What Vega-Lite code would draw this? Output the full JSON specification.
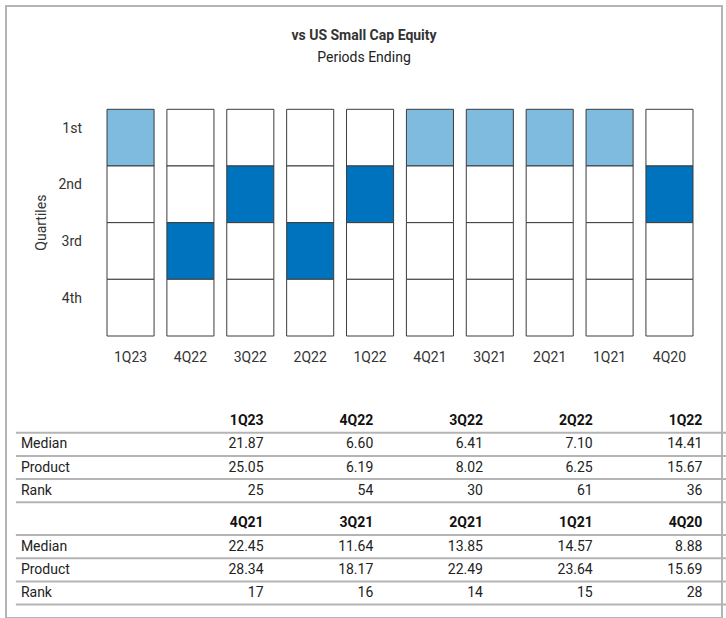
{
  "$schema": "https://vega.github.io/schema/vega-lite/v6.json",
  "width": 716,
  "height": 612,
  "autosize": {"type": "none"},
  "padding": {"left": 6, "top": 6, "right": 4, "bottom": 0},
  "background": "white",
  "config": {
    "view": {"stroke": "#b4b4b4", "strokeWidth": 2},
    "font": "Roboto",
    "text": {"font": "Roboto", "fontSize": 14, "color": "#222"}
  },
  "title": {
    "text": "vs US Small Cap Equity",
    "subtitle": "Periods Ending",
    "offset": -59,
    "frame": "group",
    "anchor": "middle",
    "font": "Roboto",
    "fontSize": 14,
    "fontWeight": "bold",
    "color": "#333",
    "subtitleFont": "Roboto",
    "subtitleFontSize": 14,
    "subtitleColor": "#222",
    "subtitlePadding": 8
  },
  "datasets": {
    "cells": [
      {"period": "1Q23", "quartile": "1st", "status": "Product - 1st quartile"},
      {"period": "1Q23", "quartile": "2nd", "status": "Peer"},
      {"period": "1Q23", "quartile": "3rd", "status": "Peer"},
      {"period": "1Q23", "quartile": "4th", "status": "Peer"},
      {"period": "4Q22", "quartile": "1st", "status": "Peer"},
      {"period": "4Q22", "quartile": "2nd", "status": "Peer"},
      {"period": "4Q22", "quartile": "3rd", "status": "Product - other quartile"},
      {"period": "4Q22", "quartile": "4th", "status": "Peer"},
      {"period": "3Q22", "quartile": "1st", "status": "Peer"},
      {"period": "3Q22", "quartile": "2nd", "status": "Product - other quartile"},
      {"period": "3Q22", "quartile": "3rd", "status": "Peer"},
      {"period": "3Q22", "quartile": "4th", "status": "Peer"},
      {"period": "2Q22", "quartile": "1st", "status": "Peer"},
      {"period": "2Q22", "quartile": "2nd", "status": "Peer"},
      {"period": "2Q22", "quartile": "3rd", "status": "Product - other quartile"},
      {"period": "2Q22", "quartile": "4th", "status": "Peer"},
      {"period": "1Q22", "quartile": "1st", "status": "Peer"},
      {"period": "1Q22", "quartile": "2nd", "status": "Product - other quartile"},
      {"period": "1Q22", "quartile": "3rd", "status": "Peer"},
      {"period": "1Q22", "quartile": "4th", "status": "Peer"},
      {"period": "4Q21", "quartile": "1st", "status": "Product - 1st quartile"},
      {"period": "4Q21", "quartile": "2nd", "status": "Peer"},
      {"period": "4Q21", "quartile": "3rd", "status": "Peer"},
      {"period": "4Q21", "quartile": "4th", "status": "Peer"},
      {"period": "3Q21", "quartile": "1st", "status": "Product - 1st quartile"},
      {"period": "3Q21", "quartile": "2nd", "status": "Peer"},
      {"period": "3Q21", "quartile": "3rd", "status": "Peer"},
      {"period": "3Q21", "quartile": "4th", "status": "Peer"},
      {"period": "2Q21", "quartile": "1st", "status": "Product - 1st quartile"},
      {"period": "2Q21", "quartile": "2nd", "status": "Peer"},
      {"period": "2Q21", "quartile": "3rd", "status": "Peer"},
      {"period": "2Q21", "quartile": "4th", "status": "Peer"},
      {"period": "1Q21", "quartile": "1st", "status": "Product - 1st quartile"},
      {"period": "1Q21", "quartile": "2nd", "status": "Peer"},
      {"period": "1Q21", "quartile": "3rd", "status": "Peer"},
      {"period": "1Q21", "quartile": "4th", "status": "Peer"},
      {"period": "4Q20", "quartile": "1st", "status": "Peer"},
      {"period": "4Q20", "quartile": "2nd", "status": "Product - other quartile"},
      {"period": "4Q20", "quartile": "3rd", "status": "Peer"},
      {"period": "4Q20", "quartile": "4th", "status": "Peer"}
    ],
    "table": [
      {"block": 1, "period": "1Q23", "metric": "Median", "value": 21.87},
      {"block": 1, "period": "1Q23", "metric": "Product", "value": 25.05},
      {"block": 1, "period": "1Q23", "metric": "Rank", "value": 25},
      {"block": 1, "period": "4Q22", "metric": "Median", "value": 6.60},
      {"block": 1, "period": "4Q22", "metric": "Product", "value": 6.19},
      {"block": 1, "period": "4Q22", "metric": "Rank", "value": 54},
      {"block": 1, "period": "3Q22", "metric": "Median", "value": 6.41},
      {"block": 1, "period": "3Q22", "metric": "Product", "value": 8.02},
      {"block": 1, "period": "3Q22", "metric": "Rank", "value": 30},
      {"block": 1, "period": "2Q22", "metric": "Median", "value": 7.10},
      {"block": 1, "period": "2Q22", "metric": "Product", "value": 6.25},
      {"block": 1, "period": "2Q22", "metric": "Rank", "value": 61},
      {"block": 1, "period": "1Q22", "metric": "Median", "value": 14.41},
      {"block": 1, "period": "1Q22", "metric": "Product", "value": 15.67},
      {"block": 1, "period": "1Q22", "metric": "Rank", "value": 36},
      {"block": 2, "period": "4Q21", "metric": "Median", "value": 22.45},
      {"block": 2, "period": "4Q21", "metric": "Product", "value": 28.34},
      {"block": 2, "period": "4Q21", "metric": "Rank", "value": 17},
      {"block": 2, "period": "3Q21", "metric": "Median", "value": 11.64},
      {"block": 2, "period": "3Q21", "metric": "Product", "value": 18.17},
      {"block": 2, "period": "3Q21", "metric": "Rank", "value": 16},
      {"block": 2, "period": "2Q21", "metric": "Median", "value": 13.85},
      {"block": 2, "period": "2Q21", "metric": "Product", "value": 22.49},
      {"block": 2, "period": "2Q21", "metric": "Rank", "value": 14},
      {"block": 2, "period": "1Q21", "metric": "Median", "value": 14.57},
      {"block": 2, "period": "1Q21", "metric": "Product", "value": 23.64},
      {"block": 2, "period": "1Q21", "metric": "Rank", "value": 15},
      {"block": 2, "period": "4Q20", "metric": "Median", "value": 8.88},
      {"block": 2, "period": "4Q20", "metric": "Product", "value": 15.69},
      {"block": 2, "period": "4Q20", "metric": "Rank", "value": 28}
    ]
  },
  "resolve": {"scale": {"x": "independent", "y": "independent"}},
  "layer": [
    {
      "data": {"name": "cells"},
      "layer": [
        {
          "mark": {"type": "rect", "stroke": "#3c3c3c", "strokeWidth": 1},
          "encoding": {
            "x": {"field": "period", "type": "nominal", "axis": null,
              "scale": {"type": "band", "domain": ["1Q23", "4Q22", "3Q22", "2Q22", "1Q22", "4Q21", "3Q21", "2Q21", "1Q21", "4Q20"], "range": [101, 687], "paddingInner": 0.214, "paddingOuter": 0}},
            "y": {"field": "quartile", "type": "nominal", "axis": null,
              "scale": {"type": "band", "domain": ["1st", "2nd", "3rd", "4th"], "range": [103.3, 330], "paddingInner": 0, "paddingOuter": 0}},
            "fill": {"field": "status", "type": "nominal", "legend": null,
              "scale": {"domain": ["Product - 1st quartile", "Product - other quartile", "Peer"], "range": ["#7fbadf", "#0073be", "#ffffff"]}}
          }
        },
        {
          "transform": [{"filter": "datum.quartile == '4th'"}],
          "mark": {"type": "text", "dy": 22, "baseline": "middle", "color": "#333"},
          "encoding": {
            "x": {"field": "period", "type": "nominal"},
            "y": {"field": "quartile", "type": "nominal", "bandPosition": 1},
            "text": {"field": "period"}
          }
        },
        {
          "transform": [{"filter": "datum.period == '1Q23'"}],
          "mark": {"type": "text", "align": "right", "dx": -25, "dy": -9, "baseline": "middle", "color": "#333"},
          "encoding": {
            "x": {"field": "period", "type": "nominal", "bandPosition": 0},
            "y": {"field": "quartile", "type": "nominal"},
            "text": {"field": "quartile"}
          }
        },
        {
          "transform": [{"filter": "datum.period == '1Q23' && datum.quartile == '2nd'"}],
          "mark": {"type": "text", "angle": 270, "dy": -65, "align": "center", "baseline": "middle", "color": "#333"},
          "encoding": {
            "x": {"field": "period", "type": "nominal", "bandPosition": 0},
            "y": {"field": "quartile", "type": "nominal", "bandPosition": 1},
            "text": {"value": "Quartiles"}
          }
        }
      ]
    },
    {
      "data": {"name": "table"},
      "transform": [{"filter": "datum.block == 1"}],
      "layer": [
        {
          "transform": [{"filter": "datum.metric == 'Median'"}],
          "mark": {"type": "text", "align": "right", "fontWeight": "bold", "color": "#111"},
          "encoding": {
            "x": {"field": "period", "type": "nominal", "bandPosition": 1, "axis": null,
              "scale": {"type": "band", "domain": ["1Q23", "4Q22", "3Q22", "2Q22", "1Q22"], "range": [147.9, 696.4], "paddingInner": 0, "paddingOuter": 0}},
            "y": {"datum": "Period", "type": "nominal", "axis": null,
              "scale": {"type": "band", "domain": ["Period", "Median", "Product", "Rank"], "range": [403.5, 496.3], "paddingInner": 0, "paddingOuter": 0}},
            "text": {"field": "period"}
          }
        },
        {
          "transform": [{"filter": "datum.period == '1Q23'"}],
          "mark": {"type": "rule", "color": "#b4b4b4", "strokeWidth": 2, "xOffset": -138, "x2Offset": 120},
          "encoding": {
            "x": {"field": "period", "type": "nominal", "bandPosition": 0},
            "x2": {"datum": "1Q22"},
            "y": {"field": "metric", "type": "nominal", "bandPosition": 0}
          }
        },
        {
          "transform": [{"filter": "datum.period == '1Q23' && datum.metric == 'Rank'"}],
          "mark": {"type": "rule", "color": "#b4b4b4", "strokeWidth": 2, "xOffset": -138, "x2Offset": 120},
          "encoding": {
            "x": {"field": "period", "type": "nominal", "bandPosition": 0},
            "x2": {"datum": "1Q22"},
            "y": {"field": "metric", "type": "nominal", "bandPosition": 1}
          }
        },
        {
          "transform": [{"filter": "datum.period == '1Q23'"}],
          "mark": {"type": "text", "align": "left", "dx": -133},
          "encoding": {
            "x": {"field": "period", "type": "nominal", "bandPosition": 0},
            "y": {"field": "metric", "type": "nominal"},
            "text": {"field": "metric"}
          }
        },
        {
          "transform": [{"filter": "datum.metric != 'Rank'"}],
          "mark": {"type": "text", "align": "right"},
          "encoding": {
            "x": {"field": "period", "type": "nominal", "bandPosition": 1},
            "y": {"field": "metric", "type": "nominal"},
            "text": {"field": "value", "type": "quantitative", "format": ".2f"}
          }
        },
        {
          "transform": [{"filter": "datum.metric == 'Rank'"}],
          "mark": {"type": "text", "align": "right"},
          "encoding": {
            "x": {"field": "period", "type": "nominal", "bandPosition": 1},
            "y": {"field": "metric", "type": "nominal"},
            "text": {"field": "value", "type": "quantitative", "format": "d"}
          }
        }
      ]
    },
    {
      "data": {"name": "table"},
      "transform": [{"filter": "datum.block == 2"}],
      "layer": [
        {
          "transform": [{"filter": "datum.metric == 'Median'"}],
          "mark": {"type": "text", "align": "right", "fontWeight": "bold", "color": "#111"},
          "encoding": {
            "x": {"field": "period", "type": "nominal", "bandPosition": 1, "axis": null,
              "scale": {"type": "band", "domain": ["4Q21", "3Q21", "2Q21", "1Q21", "4Q20"], "range": [147.9, 696.4], "paddingInner": 0, "paddingOuter": 0}},
            "y": {"datum": "Period", "type": "nominal", "axis": null,
              "scale": {"type": "band", "domain": ["Period", "Median", "Product", "Rank"], "range": [505.8, 598.6], "paddingInner": 0, "paddingOuter": 0}},
            "text": {"field": "period"}
          }
        },
        {
          "transform": [{"filter": "datum.period == '4Q21'"}],
          "mark": {"type": "rule", "color": "#b4b4b4", "strokeWidth": 2, "xOffset": -138, "x2Offset": 120},
          "encoding": {
            "x": {"field": "period", "type": "nominal", "bandPosition": 0},
            "x2": {"datum": "4Q20"},
            "y": {"field": "metric", "type": "nominal", "bandPosition": 0}
          }
        },
        {
          "transform": [{"filter": "datum.period == '4Q21' && datum.metric == 'Rank'"}],
          "mark": {"type": "rule", "color": "#b4b4b4", "strokeWidth": 2, "xOffset": -138, "x2Offset": 120},
          "encoding": {
            "x": {"field": "period", "type": "nominal", "bandPosition": 0},
            "x2": {"datum": "4Q20"},
            "y": {"field": "metric", "type": "nominal", "bandPosition": 1}
          }
        },
        {
          "transform": [{"filter": "datum.period == '4Q21'"}],
          "mark": {"type": "text", "align": "left", "dx": -133},
          "encoding": {
            "x": {"field": "period", "type": "nominal", "bandPosition": 0},
            "y": {"field": "metric", "type": "nominal"},
            "text": {"field": "metric"}
          }
        },
        {
          "transform": [{"filter": "datum.metric != 'Rank'"}],
          "mark": {"type": "text", "align": "right"},
          "encoding": {
            "x": {"field": "period", "type": "nominal", "bandPosition": 1},
            "y": {"field": "metric", "type": "nominal"},
            "text": {"field": "value", "type": "quantitative", "format": ".2f"}
          }
        },
        {
          "transform": [{"filter": "datum.metric == 'Rank'"}],
          "mark": {"type": "text", "align": "right"},
          "encoding": {
            "x": {"field": "period", "type": "nominal", "bandPosition": 1},
            "y": {"field": "metric", "type": "nominal"},
            "text": {"field": "value", "type": "quantitative", "format": "d"}
          }
        }
      ]
    }
  ]
}
